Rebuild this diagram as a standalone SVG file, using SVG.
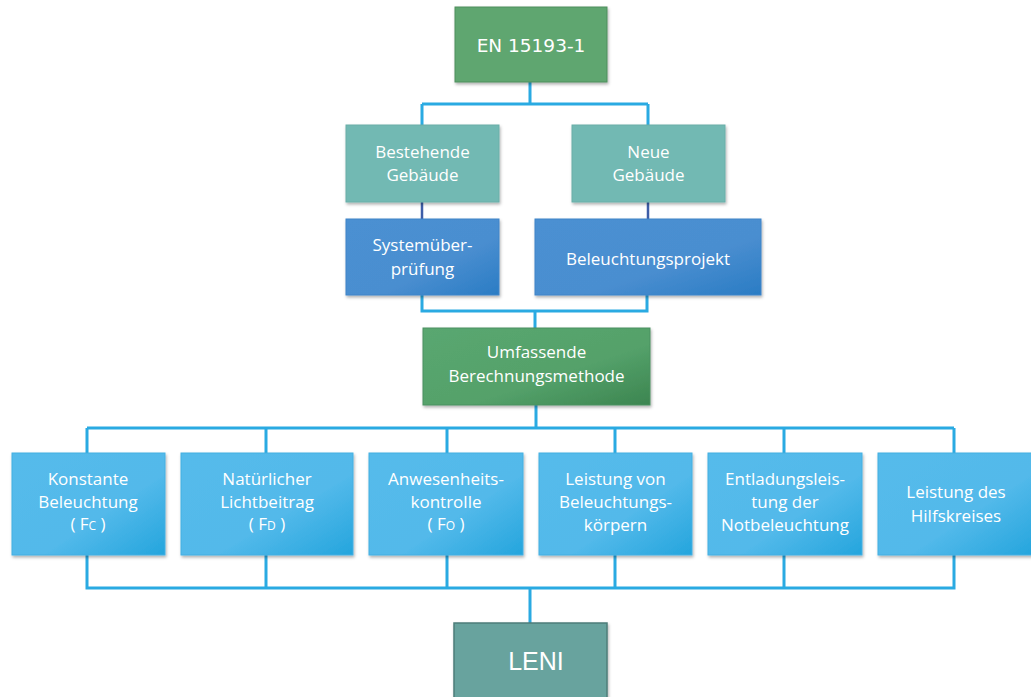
<svg xmlns="http://www.w3.org/2000/svg" width="1031" height="697" viewBox="0 0 1031 697">
<defs>
<filter id="sh" x="-10%" y="-10%" width="125%" height="130%">
<feDropShadow dx="1" dy="2" stdDeviation="1.5" flood-color="#000" flood-opacity="0.3"/>
</filter>
<linearGradient id="gBlue" x1="0" y1="0" x2="1" y2="1">
<stop offset="0" stop-color="#4b90d2"/><stop offset="0.6" stop-color="#4a8ed0"/><stop offset="1" stop-color="#2a7cc4"/>
</linearGradient>
<linearGradient id="gGreen" x1="0" y1="0" x2="1" y2="1">
<stop offset="0" stop-color="#5aa770"/><stop offset="0.6" stop-color="#54a16a"/><stop offset="1" stop-color="#3c8550"/>
</linearGradient>
<linearGradient id="gLight" x1="0" y1="0" x2="1" y2="1">
<stop offset="0" stop-color="#55bbeb"/><stop offset="0.6" stop-color="#52b9ea"/><stop offset="1" stop-color="#24a5dd"/>
</linearGradient>
<style>
.c{fill:none;stroke:#2aaae2;stroke-width:3}
.cd{fill:none;stroke:#3e5ea8;stroke-width:2.5}
.t{font-family:"Open Sans","Noto Sans",sans-serif;font-size:17px;fill:#fff;text-anchor:middle}
.sub{font-size:12px}
.teal{fill:#72b9b3;stroke:#6aaea8;stroke-width:1}
.light{fill:url(#gLight);stroke:#45afe2;stroke-width:1}
</style>
</defs>
<g id="connectors">
<path class="c" d="M530 82V104M422 104H648M422 104V125M648 104V125"/>
<path class="cd" d="M422 202V219M648 202V219"/>
<path class="c" d="M422 295V311H647V295M535 311V328"/>
<path class="c" d="M536 405V428M87 428H954M87 428V453M266 428V453M447 428V453M615 428V453M784 428V453M954 428V453"/>
<path class="c" d="M87 555V588H954V555M266 555V588M447 555V588M615 555V588M784 555V588M530 588V623"/>
</g>
<g id="n-en">
<rect x="455" y="7" width="152" height="75" fill="#5fa66f" stroke="#4f8e5e" stroke-width="1" filter="url(#sh)"/>
<text x="531" y="52" font-family="DejaVu Sans,Verdana,sans-serif" font-size="18.5" fill="#fff" text-anchor="middle">EN 15193-1</text>
</g>
<g id="n-bestehend">
<rect class="teal" x="346" y="125" width="153" height="77" filter="url(#sh)"/>
<text class="t" x="422.5" y="158">Bestehende</text>
<text class="t" x="422.5" y="181">Gebäude</text>
</g>
<g id="n-neu">
<rect class="teal" x="572" y="125" width="153" height="77" filter="url(#sh)"/>
<text class="t" x="648.5" y="158">Neue</text>
<text class="t" x="648.5" y="181">Gebäude</text>
</g>
<g id="n-system">
<rect x="346" y="219" width="153" height="76" fill="url(#gBlue)" stroke="#3f84c8" filter="url(#sh)"/>
<text class="t" x="422.5" y="251">Systemüber-</text>
<text class="t" x="422.5" y="275">prüfung</text>
</g>
<g id="n-projekt">
<rect x="535" y="219" width="226" height="76" fill="url(#gBlue)" stroke="#3f84c8" filter="url(#sh)"/>
<text class="t" x="648" y="265">Beleuchtungsprojekt</text>
</g>
<g id="n-umfassend">
<rect x="423" y="328" width="227" height="77" fill="url(#gGreen)" stroke="#4a9060" filter="url(#sh)"/>
<text class="t" x="536.5" y="358">Umfassende</text>
<text class="t" x="536.5" y="382">Berechnungsmethode</text>
</g>
<g id="n-konstant">
<rect class="light" x="12" y="453" width="153" height="102" filter="url(#sh)"/>
<text class="t" x="88" y="485">Konstante</text>
<text class="t" x="88" y="508">Beleuchtung</text>
<text class="t" x="88" y="530">( F<tspan class="sub">C</tspan> )</text>
</g>
<g id="n-natur">
<rect class="light" x="181" y="453" width="172" height="102" filter="url(#sh)"/>
<text class="t" x="267" y="485">Natürlicher</text>
<text class="t" x="267" y="508">Lichtbeitrag</text>
<text class="t" x="267" y="530">( F<tspan class="sub">D</tspan> )</text>
</g>
<g id="n-anwesen">
<rect class="light" x="369" y="453" width="154" height="102" filter="url(#sh)"/>
<text class="t" x="446" y="485">Anwesenheits-</text>
<text class="t" x="446" y="508">kontrolle</text>
<text class="t" x="446" y="530">( F<tspan class="sub">O</tspan> )</text>
</g>
<g id="n-leistung">
<rect class="light" x="539" y="453" width="153" height="102" filter="url(#sh)"/>
<text class="t" x="615.5" y="485">Leistung von</text>
<text class="t" x="615.5" y="508">Beleuchtungs-</text>
<text class="t" x="615.5" y="531">körpern</text>
</g>
<g id="n-entladung">
<rect class="light" x="708" y="453" width="154" height="102" filter="url(#sh)"/>
<text class="t" x="785" y="485">Entladungsleis-</text>
<text class="t" x="785" y="508">tung der</text>
<text class="t" x="785" y="531">Notbeleuchtung</text>
</g>
<g id="n-hilfs">
<rect class="light" x="878" y="453" width="155" height="102" filter="url(#sh)"/>
<text class="t" x="956" y="498">Leistung des</text>
<text class="t" x="956" y="522">Hilfskreises</text>
</g>
<g id="n-leni">
<rect x="454" y="623" width="153" height="80" fill="#67a39e" stroke="#4e7e79" stroke-width="1.5" filter="url(#sh)"/>
<text x="536" y="670" font-family="Liberation Sans,Arial,sans-serif" font-size="25" fill="#fff" text-anchor="middle">LENI</text>
</g>
</svg>
